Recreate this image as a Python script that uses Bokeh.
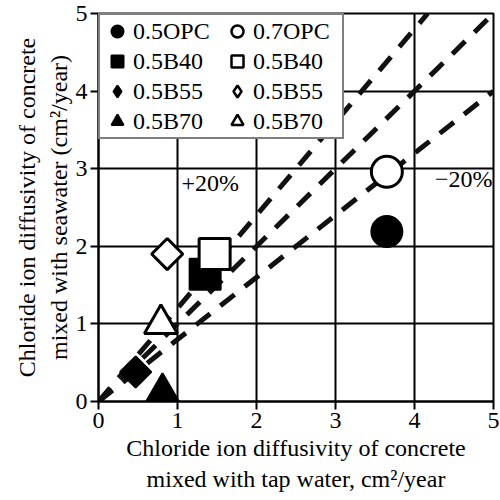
import numpy as np
from bokeh.plotting import figure
from bokeh.models import Legend, LegendItem, FixedTicker, Range1d
from bokeh.core.properties import value
from bokeh.embed import file_html
from bokeh.resources import INLINE

# ---- data ----
filled_names = ["0.5OPC", "0.5B40", "0.5B55", "0.5B70"]
filled_x = [3.65, 1.35, 0.47, 0.81]
filled_y = [2.19, 1.64, 0.38, 0.12]

open_names = ["0.7OPC", "0.5B40", "0.5B55", "0.5B70"]
open_x = [3.65, 1.47, 0.87, 0.79]
open_y = [2.96, 1.90, 1.90, 1.00]

markers = ["circle", "square", "square", "triangle"]
legend_markers = ["circle", "square", "diamond", "triangle"]
angles = [0, 0, np.pi / 4, 0]
sizes = [31, 31, 22, 33]

ratios = [1.2, 1.0, 0.8]
ratio_labels = ["+20%", "\u221220%"]
ratio_label_x = [1.05, 4.26]
ratio_label_y = [2.81, 2.87]

ticks = [0, 1, 2, 3, 4, 5]

FONT = "Liberation Serif"

p = figure(width=500, height=500, output_backend="svg", toolbar_location=None,
           x_range=Range1d(0, 5), y_range=Range1d(0, 5),
           min_border_top=13, min_border_right=7,
           min_border_left=98, min_border_bottom=99)

p.background_fill_color = "white"
p.outline_line_color = "black"
p.outline_line_width = 2

for ax in (p.xaxis[0], p.yaxis[0]):
    ax.ticker = FixedTicker(ticks=ticks)
    ax.major_label_text_font = FONT
    ax.major_label_text_font_size = "24px"
    ax.major_label_text_color = "black"
    ax.axis_label_text_font = FONT
    ax.axis_label_text_font_size = "24px"
    ax.axis_label_text_font_style = "normal"
    ax.axis_label_text_color = "black"
    ax.axis_label_text_line_height = 1.2
    ax.axis_line_color = "black"
    ax.axis_line_width = 2
    ax.major_tick_line_color = "black"
    ax.major_tick_line_width = 2
    ax.major_tick_out = 8
    ax.major_tick_in = 0
    ax.minor_tick_line_color = None
    ax.major_label_standoff = 3

p.xaxis.axis_label = "Chloride ion diffusivity of concrete\nmixed with tap water, cm\u00b2/year"
p.yaxis.axis_label = "Chloride ion diffusivity of concrete\nmixed with seawater (cm\u00b2/year)"
p.xaxis.axis_label_standoff = 4
p.yaxis.axis_label_standoff = 1

for g in (p.xgrid[0], p.ygrid[0]):
    g.ticker = FixedTicker(ticks=ticks)
    g.grid_line_color = "black"
    g.grid_line_width = 2

# reference lines
for r in ratios:
    xe = min(5.0, 5.0 / r)
    xs = np.array([0.0, xe])
    p.line(xs, r * xs, line_color="#111111", line_width=5, line_dash="18 13")

p.text(x=ratio_label_x, y=ratio_label_y, text=ratio_labels,
       text_font=value(FONT), text_font_size="24px", text_color="black",
       text_align="left", text_baseline="middle")

items_f = []
items_o = []
for i in range(4):
    p.scatter(x=[filled_x[i]], y=[filled_y[i]], marker=markers[i], size=sizes[i],
              angle=angles[i], fill_color="black", line_color="black", line_width=2)
    p.scatter(x=[open_x[i]], y=[open_y[i]], marker=markers[i], size=sizes[i],
              angle=angles[i], fill_color="white", line_color="black", line_width=3)
    # legend-only proxies (NaN position: not drawn on the plot)
    lf = p.scatter(x=[np.nan], y=[np.nan], marker=legend_markers[i], size=10,
                   fill_color="black", line_color="black", line_width=2)
    lo = p.scatter(x=[np.nan], y=[np.nan], marker=legend_markers[i], size=10,
                   fill_color="white", line_color="black", line_width=2.5)
    items_f.append(LegendItem(label=filled_names[i], renderers=[lf]))
    items_o.append(LegendItem(label=open_names[i], renderers=[lo]))

legend = Legend(items=items_f + items_o, ncols=2, location="top_left", margin=0,
                label_text_font=FONT, label_text_font_size="24px",
                label_text_color="black", border_line_color="black",
                border_line_width=2, background_fill_alpha=1,
                glyph_width=32, glyph_height=30, label_standoff=-2,
                label_width=88, label_height=29,
                spacing=-1, padding=1)
p.add_layout(legend, "center")

open("out.html", "w").write(file_html(p, INLINE))
